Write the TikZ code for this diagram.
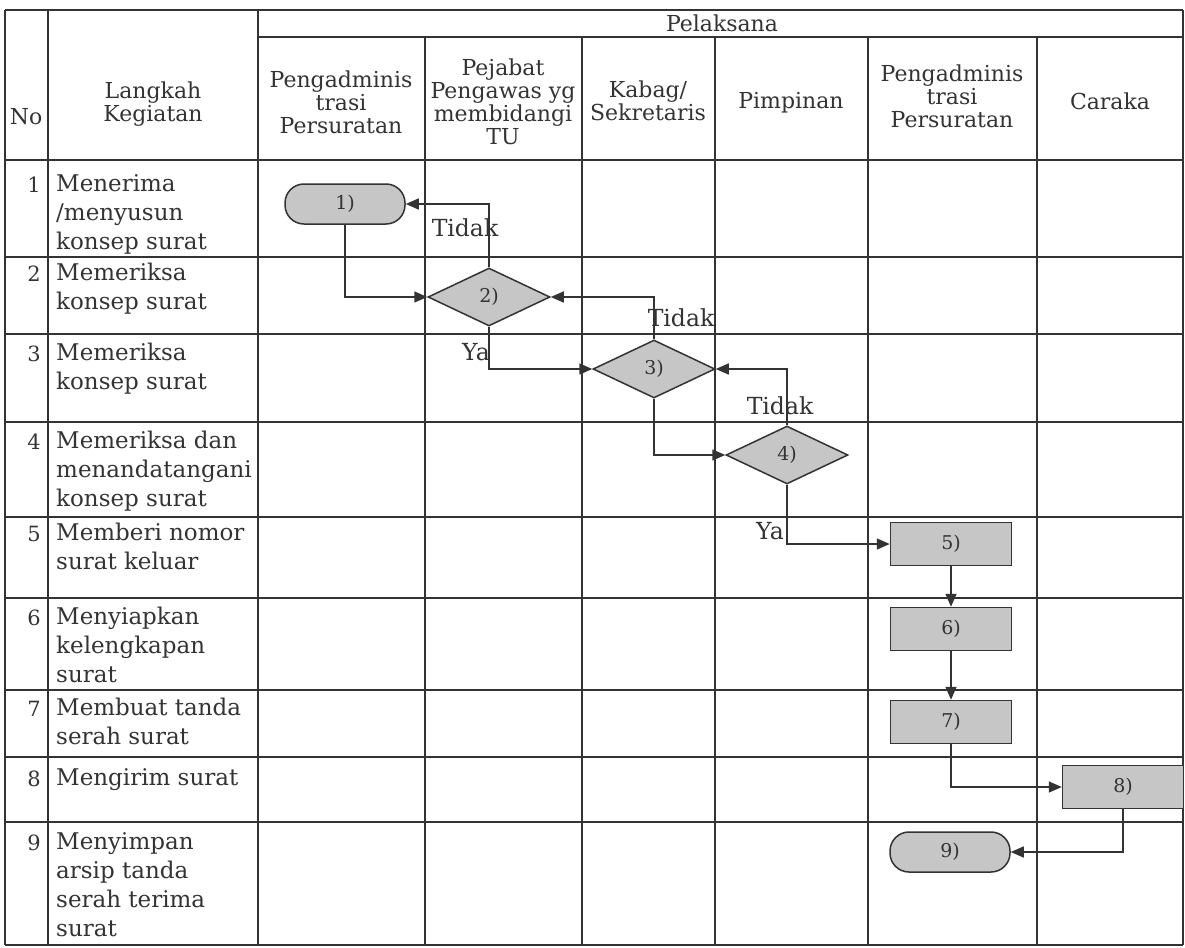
\documentclass[tikz,border=0pt]{standalone}
\usepackage{fontspec}
\setmainfont{DejaVu Serif}
\usetikzlibrary{arrows.meta,shapes.geometric}
\definecolor{ink}{HTML}{333333}
\definecolor{boxfill}{HTML}{C6C6C6}
\tikzset{
  grid/.style={draw=ink, line width=1.5pt},
  hdr/.style={align=center, text=ink, font=\fontsize{22}{23}\selectfont, inner sep=0},
  rowtxt/.style={anchor=north west, align=left, text=ink, font=\fontsize{23}{29}\selectfont, inner sep=0},
  rownum/.style={anchor=base east, text=ink, font=\fontsize{21}{29}\selectfont, inner sep=0},
  term/.style={draw=ink, fill=boxfill, line width=1.5pt, rounded corners=19pt, minimum width=120pt, minimum height=40pt, text=ink, font=\fontsize{19}{20}\selectfont},
  proc/.style={draw=ink, fill=boxfill, line width=1.5pt, minimum width=121pt, minimum height=43pt, text=ink, font=\fontsize{19}{20}\selectfont},
  dec/.style={draw=ink, fill=boxfill, line width=1.5pt, shape=diamond, minimum width=122pt, minimum height=58pt, inner sep=0, text=ink, font=\fontsize{19}{20}\selectfont},
  arr/.style={draw=ink, line width=1.5pt, -{Triangle[length=13pt,width=11pt]}},
  lbl/.style={text=ink, font=\fontsize{23.5}{24}\selectfont, inner sep=0},
}
\begin{document}
\begin{tikzpicture}[x=1pt,y=-1pt]
\useasboundingbox (0,0) rectangle (1185,947);
% table grid
\draw[grid] (5,10) -- (1183,10);
\draw[grid] (258,37) -- (1183,37);
\foreach \y in {160,257,334,422,517,598,690,757,822,945}
  \draw[grid] (5,\y) -- (1183,\y);
\foreach \x in {5,48,258,1183}
  \draw[grid] (\x,10) -- (\x,945);
\foreach \x in {425,582,715,868,1037}
  \draw[grid] (\x,37) -- (\x,945);
% header
\node[hdr] (hNo) at (26,117) {No};
\node[hdr] (hLk) at (153,104) {Langkah\\Kegiatan};
\node[hdr] (hPl) at (722,23) {Pelaksana};
\node[hdr] (hA) at (341,102) {Pengadminis\\trasi\\Persuratan};
\node[hdr] (hB) at (503,102) {Pejabat\\Pengawas yg\\membidangi\\TU};
\node[hdr] (hC) at (648,101) {Kabag/\\Sekretaris};
\node[hdr] (hD) at (791,103) {Pimpinan};
\node[hdr] (hE) at (952,96) {Pengadminis\\trasi\\Persuratan};
\node[hdr] (hF) at (1110,101) {Caraka};
% rows
\node[rownum] (r1n) at (41,192) {1};
\node[rowtxt] (r1) at (56,174) {Menerima\\/menyusun\\konsep surat};
\node[rownum] (r2n) at (41,281) {2};
\node[rowtxt] (r2) at (56,263) {Memeriksa\\konsep surat};
\node[rownum] (r3n) at (41,361) {3};
\node[rowtxt] (r3) at (56,343) {Memeriksa\\konsep surat};
\node[rownum] (r4n) at (41,449) {4};
\node[rowtxt] (r4) at (56,431) {Memeriksa dan\\menandatangani\\konsep surat};
\node[rownum] (r5n) at (41,541) {5};
\node[rowtxt] (r5) at (56,523) {Memberi nomor\\surat keluar};
\node[rownum] (r6n) at (41,625) {6};
\node[rowtxt] (r6) at (56,607) {Menyiapkan\\kelengkapan\\surat};
\node[rownum] (r7n) at (41,716) {7};
\node[rowtxt] (r7) at (56,698) {Membuat tanda\\serah surat};
\node[rownum] (r8n) at (41,786) {8};
\node[rowtxt] (r8) at (56,768) {Mengirim surat};
\node[rownum] (r9n) at (41,850) {9};
\node[rowtxt] (r9) at (56,832) {Menyimpan\\arsip tanda\\serah terima\\surat};
% flow shapes
\node[term] (n1) at (345,204) {1)};
\node[dec] (n2) at (489,297) {2)};
\node[dec] (n3) at (654,369) {3)};
\node[dec] (n4) at (787,455) {4)};
\node[proc] (n5) at (951,544) {5)};
\node[proc] (n6) at (951,629) {6)};
\node[proc] (n7) at (951,722) {7)};
\node[proc] (n8) at (1123,787) {8)};
\node[term] (n9) at (950,852) {9)};
% connectors
\draw[arr] (n1.south) |- (n2.west);
\draw[arr] (n2.north) |- (n1.east);
\draw[arr] (n3.north) |- (n2.east);
\draw[arr] (n2.south) |- (n3.west);
\draw[arr] (n4.north) |- (n3.east);
\draw[arr] (n3.south) |- (n4.west);
\draw[arr] (n4.south) |- (n5.west);
\draw[arr] (n5.south) -- (n6.north);
\draw[arr] (n6.south) -- (n7.north);
\draw[arr] (n7.south) |- (n8.west);
\draw[arr] (n8.south) |- (n9.east);
% labels
\node[lbl] (t1) at (465,228) {Tidak};
\node[lbl] (t2) at (681,318) {Tidak};
\node[lbl] (y1) at (476,352) {Ya};
\node[lbl] (t3) at (780,406) {Tidak};
\node[lbl] (y2) at (770,531) {Ya};
\end{tikzpicture}
\end{document}
